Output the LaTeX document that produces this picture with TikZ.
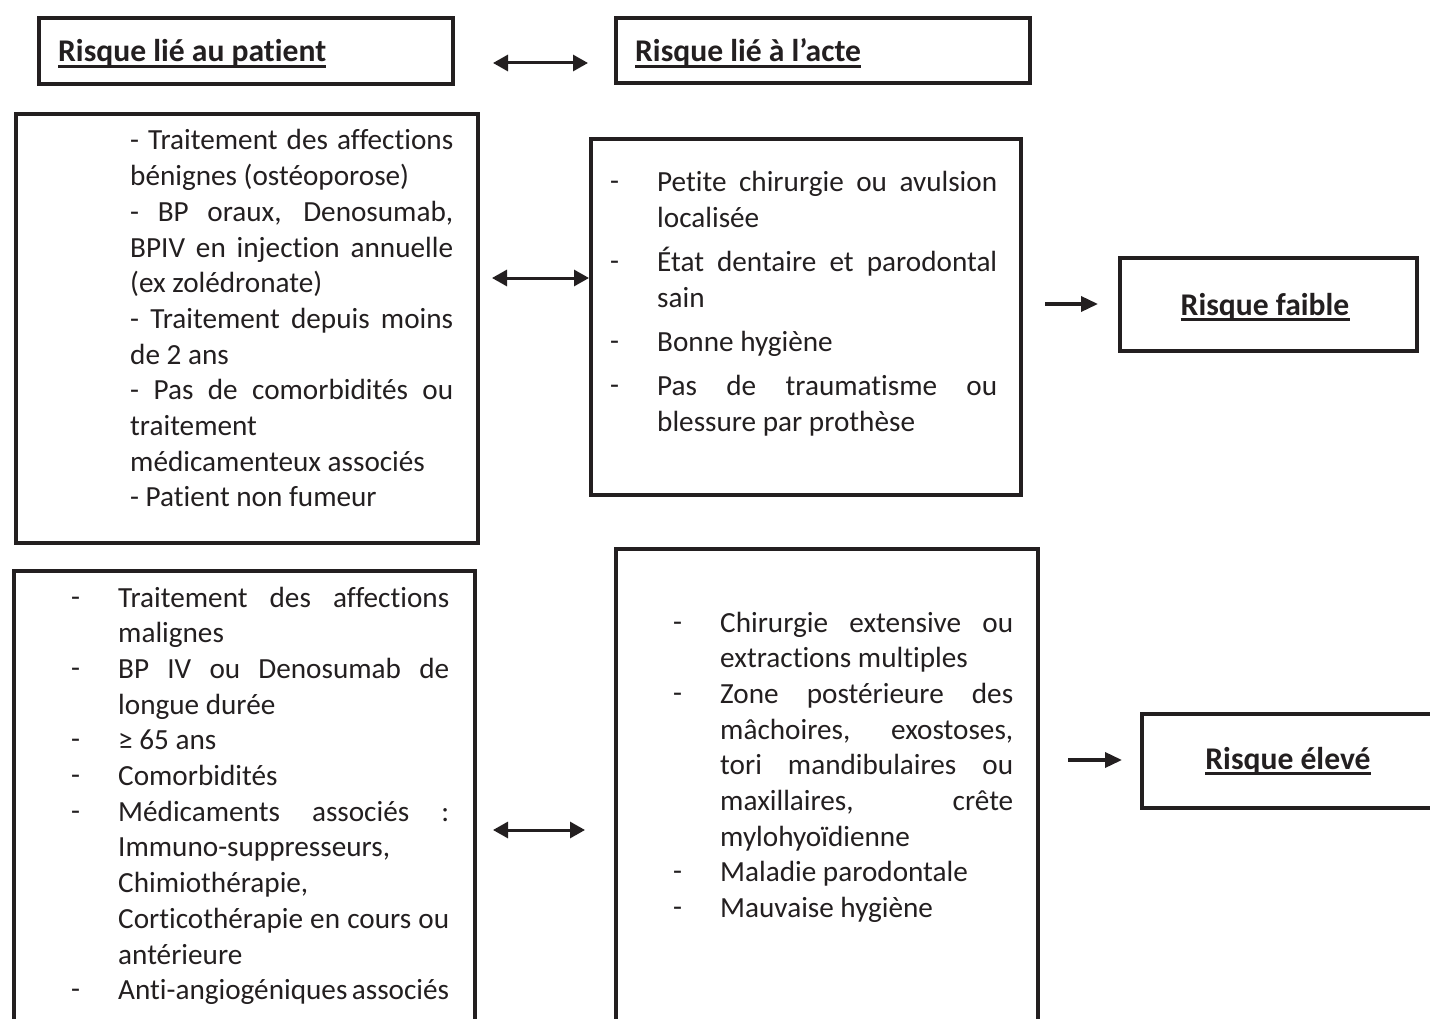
\documentclass[tikz,border=0pt]{standalone}
\usepackage{fontspec}
\setmainfont{Carlito}[Ligatures=CommonOff]
\usetikzlibrary{arrows.meta}
\definecolor{ink}{HTML}{231F20}
\newcommand{\bodyfont}{\fontsize{29.2}{35.7}\selectfont}
\newcommand{\headfont}{\fontsize{31.6}{38}\selectfont\bfseries}
\newcommand{\jl}[1]{\makebox[\linewidth][s]{#1}\par}
\newcommand{\pl}[1]{#1\par}
\newcommand{\dsh}{\leavevmode\llap{\hbox to 47pt{\raisebox{1pt}{-}\hfil}}}
\newcommand{\txtblock}[2]{\parbox[t]{#1}{\bodyfont\setlength{\parindent}{0pt}\setlength{\parskip}{0pt}#2}}
\tikzset{
  box/.style={draw=ink, line width=4pt, inner sep=0pt, anchor=north west, fill=none},
  body/.style={inner sep=0pt, anchor=base west, text=ink},
  head/.style={inner sep=0pt, text=ink, font=\headfont},
  uline/.style={draw=ink, line width=2.3pt},
  dbl/.style={draw=ink, line width=3pt, {Triangle[length=15pt,width=16pt]}-{Triangle[length=15pt,width=16pt]}},
  sgl/.style={draw=ink, line width=3.5pt, -{Triangle[length=17pt,width=15pt]}}
}
\begin{document}
\begin{tikzpicture}[x=1pt, y=-1pt]
\useasboundingbox (0,0) rectangle (1430,1019);
\clip (0,0) rectangle (1430,1019);
\fill[white] (0,0) rectangle (1430,1019);

% boxes
\node[box, minimum width=414pt, minimum height=66pt] (b1) at (37,16) {};
\node[box, minimum width=414pt, minimum height=65pt] (b2) at (614,16) {};
\node[box, minimum width=462pt, minimum height=429pt] (b3) at (14,112) {};
\node[box, minimum width=430pt, minimum height=356pt] (b4) at (589,137) {};
\node[box, minimum width=297pt, minimum height=93pt] (b5) at (1118,256) {};
\node[box, minimum width=461pt, minimum height=500pt] (b6) at (12,569) {};
\node[box, minimum width=422pt, minimum height=500pt] (b7) at (614,547) {};
\node[box, minimum width=320pt, minimum height=94pt] (b8) at (1140,712) {};

% headings
\node[head, anchor=base west] (h1) at (58,62) {Risque lié au patient};
\node[head, anchor=base west] (h2) at (635,62) {Risque lié à l’acte};
\node[head, anchor=base] (h5) at (1265,315) {Risque faible};
\node[head, anchor=base] (h8) at (1288,769) {Risque élevé};
\foreach \h in {h1,h2,h5,h8}{
  \draw[uline] ([yshift=-4.5pt]\h.base west) -- ([yshift=-4.5pt]\h.base east);
}

% body texts
\node[body] (t3) at (130,150) {\txtblock{323pt}{%
\jl{- Traitement des affections}
\pl{bénignes (ostéoporose)}
\jl{- BP oraux, Denosumab,}
\jl{BPIV en injection annuelle}
\pl{(ex zolédronate)}
\jl{- Traitement depuis moins}
\pl{de 2 ans}
\jl{- Pas de comorbidités ou}
\pl{traitement}
\pl{médicamenteux associés}
\pl{- Patient non fumeur}}};

\node[body] (t4) at (657,192) {\txtblock{340pt}{%
\dsh\jl{Petite chirurgie ou avulsion}
\pl{localisée}
\vspace{8.5pt}
\dsh\jl{État dentaire et parodontal}
\pl{sain}
\vspace{8.5pt}
\dsh\pl{Bonne hygiène}
\vspace{8.5pt}
\dsh\jl{Pas de traumatisme ou}
\pl{blessure par prothèse}}};

\node[body] (t6) at (118,607) {\txtblock{331pt}{%
\dsh\jl{Traitement des affections}
\pl{malignes}
\dsh\jl{BP IV ou Denosumab de}
\pl{longue durée}
\dsh\pl{≥ 65 ans}
\dsh\pl{Comorbidités}
\dsh\jl{Médicaments associés :}
\pl{Immuno-suppresseurs,}
\pl{Chimiothérapie,}
\jl{Corticothérapie en cours ou}
\pl{antérieure}
\dsh\jl{Anti-angiogéniques associés}}};

\node[body] (t7) at (720,632) {\txtblock{293pt}{%
\dsh\jl{Chirurgie extensive ou}
\pl{extractions multiples}
\dsh\jl{Zone postérieure des}
\jl{mâchoires, exostoses,}
\jl{tori mandibulaires ou}
\jl{maxillaires, crête}
\pl{mylohyoïdienne}
\dsh\pl{Maladie parodontale}
\dsh\pl{Mauvaise hygiène}}};

% connectors
\coordinate (a1s) at (493,63);
\coordinate (a1e) at (588,63);
\coordinate (a2s) at (492,278);
\coordinate (a3s) at (493,830);
\coordinate (a3e) at (585,830);
\coordinate (a4s) at (1045,304);
\coordinate (a4e) at (1098,304);
\coordinate (a5s) at (1068,760);
\coordinate (a5e) at (1122,760);
\draw[dbl] (a1s) -- (a1e);
\draw[dbl] (a2s) -- (a2s -| b4.west);
\draw[dbl] (a3s) -- (a3e);
\draw[sgl] (a4s) -- (a4e);
\draw[sgl] (a5s) -- (a5e);
\end{tikzpicture}
\end{document}
